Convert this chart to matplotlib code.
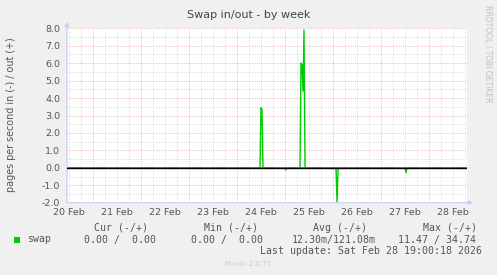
import numpy as np
import matplotlib
matplotlib.use('Agg')
from matplotlib import pyplot
from matplotlib.patches import Rectangle


#(0) Data (hours since 20 Feb 00:00):
out_hours  = [11, 107.5, 108, 108.5, 109, 127.5, 128, 128.5, 129, 129.5, 130, 130.5, 211]
out_values = [0, 0, 3.45, 3.35, 0, 0, 6.0, 5.9, 4.4, 7.9, 0.1, 0, 0]
in_hours   = [11, 120, 120.5, 121, 145.5, 146, 146.5, 147, 180, 180.5, 181, 211]
in_values  = [0, 0, 0.12, 0, 0, 1.95, 0.15, 0, 0, 0.28, 0, 0]
day_labels = ['20 Feb', '21 Feb', '22 Feb', '23 Feb', '24 Feb', '25 Feb', '26 Feb', '27 Feb', '28 Feb']
legend_hdr = ['Cur (-/+)', 'Min (-/+)', 'Avg (-/+)', 'Max (-/+)']
legend_val = ['0.00 /  0.00', '0.00 /  0.00', '12.30m/121.08m', '11.47 / 34.74']
TITLE      = 'Swap in/out - by week'
YLABEL     = 'pages per second in (-) / out (+)'
LASTUPDATE = 'Last update: Sat Feb 28 19:00:18 2026'

W, H       = 497, 275
BG         = '#f0f0f0'
GREEN      = '#00cc00'
MAJ        = '#e8a8a8'
MIN        = '#d0d0d0'
AXC        = '#c8ccf4'
TXT        = '#555555'
sans       = 'DejaVu Sans'
mono       = 'DejaVu Sans Mono'

fx = lambda x: x / W
fy = lambda y: 1 - y / H


#(1) Plot
pyplot.close('all')
fig = pyplot.figure(figsize=(W/100, H/100), dpi=100, facecolor=BG)
x0, x1, y0, y1 = 67, 467, 28.3, 202.7
ax = fig.add_axes([fx(x0), fy(y1), fx(x1-x0), (y1-y0)/H])
ax.set_facecolor('white')
ax.set_xlim(11, 211)
ax.set_ylim(-2, 8)

# grid
for h in np.arange(12, 211, 6):
	if h % 24:
		ax.axvline(h, color=MIN, lw=0.6, ls=(0, (1, 1.5)), zorder=1)
for h in np.arange(24, 211, 24):
	ax.axvline(h, color=MAJ, lw=0.6, ls=(0, (1, 1.5)), zorder=1.5)
for v in np.arange(-1.5, 8, 1.0):
	ax.axhline(v, color=MIN, lw=0.6, ls=(0, (1, 1.5)), zorder=1)
for v in np.arange(-1, 8.5, 1.0):
	ax.axhline(v, color=MAJ, lw=0.6, ls=(0, (1, 1.5)), zorder=1.5)

# data
ax.plot(out_hours, out_values, color=GREEN, lw=1.0, zorder=3)
ax.plot(in_hours, -np.array(in_values), color=GREEN, lw=1.0, zorder=3)
ax.axhline(0, color='black', lw=1.0, zorder=4)

# ticks
ax.set_yticks(np.arange(-2, 8.5, 1.0))
ax.set_yticklabels(['%.1f' % v for v in np.arange(-2, 8.5, 1.0)])
ax.set_xticks(np.arange(12, 211, 24))
ax.set_xticklabels(day_labels)
ax.tick_params(axis='both', length=0, labelsize=6.8, labelcolor=TXT)
ax.tick_params(axis='y', pad=5)
ax.tick_params(axis='x', pad=4)
for lab in ax.get_xticklabels() + ax.get_yticklabels():
	lab.set_family(sans)
[s.set_visible(False) for s in ax.spines.values()]

# axis arrows
ax.annotate('', xy=(1.015, 0), xytext=(0, 0), xycoords='axes fraction',
	arrowprops=dict(arrowstyle='-|>', color=AXC, lw=0.8, mutation_scale=6, shrinkA=0, shrinkB=0), annotation_clip=False)
ax.annotate('', xy=(0, 1.035), xytext=(0, 0), xycoords='axes fraction',
	arrowprops=dict(arrowstyle='-|>', color=AXC, lw=0.8, mutation_scale=6, shrinkA=0, shrinkB=0), annotation_clip=False)

# texts
fig.text(fx(248.5), fy(15), TITLE, ha='center', va='center', size=8, color='#444444', family=sans)
fig.text(fx(11.3), fy(115), YLABEL, ha='center', va='center', rotation=90, size=6.9, color=TXT, family=sans)
fig.text(fx(487.7), fy(5), 'RRDTOOL / TOBI OETIKER', ha='center', va='top', rotation=270, size=5.5, color='#c0c0c0', family=sans)

hdr_x = [94.3, 204, 313.3, 422.7]
val_x = [84, 190.7, 291.7, 398.3]
for s, x in zip(legend_hdr, hdr_x):
	fig.text(fx(x), fy(227.7), s, ha='left', va='center', size=7.1, color=TXT, family=mono)
for s, x in zip(legend_val, val_x):
	fig.text(fx(x), fy(239.5), s, ha='left', va='center', size=7.1, color=TXT, family=mono)
fig.text(fx(26.7), fy(239.5), 'swap', ha='left', va='center', size=7.1, color=TXT, family=mono)
fig.patches.append(Rectangle((fx(14), fy(242.7)), 6/W, 6/H, transform=fig.transFigure, facecolor=GREEN, edgecolor='none'))
fig.text(fx(482.5), fy(251), LASTUPDATE, ha='right', va='center', size=7.1, color=TXT, family=mono)
fig.text(fx(247.7), fy(264.5), 'Munin 2.0.75', ha='center', va='center', size=5, color='#cccccc', family=sans)

pyplot.savefig('out.png', dpi=100, facecolor=BG)
